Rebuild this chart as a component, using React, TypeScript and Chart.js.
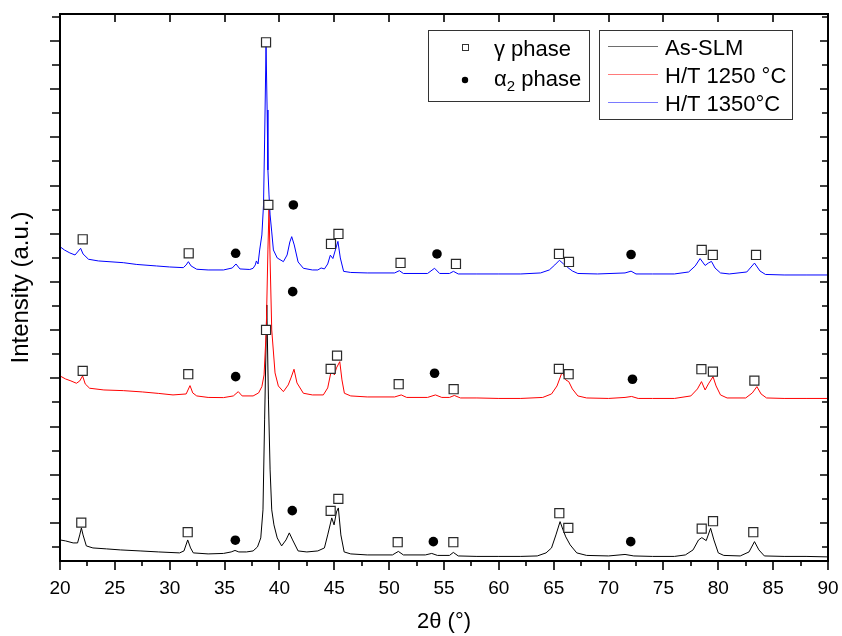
import React, { useEffect, useRef } from "react";
import { Chart, registerables } from "chart.js";

Chart.register(...registerables);

// ---------- data (2θ in degrees, intensity in arbitrary units) ----------
const X_MIN = 20;
const X_MAX = 90;
const Y_MIN = -79;
const Y_MAX = 1056;

const xMajorTicks = [20, 25, 30, 35, 40, 45, 50, 55, 60, 65, 70, 75, 80, 85, 90];
const xMinorTicks = [22.5, 27.5, 32.5, 37.5, 42.5, 47.5, 52.5, 57.5, 62.5, 67.5, 72.5, 77.5, 82.5, 87.5];
const yMajorTicks = [0, 100, 200, 300, 400, 500, 600, 700, 800, 900, 1000];
const yMinorTicks = [-50, 50, 150, 250, 350, 450, 550, 650, 750, 850, 950, 1050];

const seriesLabels = ["As-SLM", "H/T 1250 °C", "H/T 1350°C"];
const seriesColors = ["#000000", "#ff0000", "#0000ff"];
const legendLineColors = ["#6e6e6e", "#ff7a7a", "#7a7aff"];

const asSLM: [number, number][] = [
  [20.0, -35.3], [20.5, -37.3], [21.2, -41.5], [21.6, -41.5], [21.8, -24.9], [21.95, -10.4],
  [22.1, -24.9], [22.4, -47.7], [23.0, -51.9], [24.25, -53.9], [25.5, -56.0], [27.3, -58.1],
  [29.0, -60.2], [30.9, -62.2], [31.3, -58.1], [31.64, -35.3], [31.9, -51.9], [32.15, -62.2],
  [33.5, -64.3], [34.9, -63.3], [35.6, -60.2], [35.95, -57.1], [36.3, -60.2], [37.0, -60.2],
  [37.6, -58.1], [38.0, -49.8], [38.3, -31.1], [38.5, 27.0], [38.65, 213.7], [38.85, 452.3],
  [39.0, 255.2], [39.15, 110.0], [39.3, 27.0], [39.5, -4.1], [39.8, -31.1], [40.2, -47.7],
  [40.6, -35.3], [40.9, -20.7], [41.2, -35.3], [41.7, -58.1], [42.5, -60.2], [43.5, -58.1],
  [44.1, -51.9], [44.4, -24.9], [44.77, 10.4], [44.98, -4.1], [45.2, 22.8], [45.37, 31.1],
  [45.6, -24.9], [45.9, -60.2], [46.5, -64.3], [48.0, -66.4], [50.3, -66.4], [50.84, -59.1],
  [51.3, -66.4], [53.3, -66.4], [53.88, -63.3], [54.4, -67.4], [55.5, -67.4], [55.85, -61.2],
  [56.3, -68.5], [58.0, -69.5], [60.0, -69.5], [62.0, -69.5], [63.5, -68.5], [64.3, -62.2],
  [64.8, -51.9], [65.2, -24.9], [65.58, 2.7], [65.85, -14.5], [66.1, -29.0], [66.5, -45.6],
  [67.1, -62.2], [68.0, -67.4], [70.0, -68.5], [71.5, -65.4], [72.3, -68.5], [74.0, -69.5],
  [76.0, -69.5], [77.0, -66.4], [77.7, -56.0], [78.2, -35.3], [78.5, -30.5], [78.9, -36.7],
  [79.3, -11.0], [79.6, -35.3], [80.0, -62.2], [80.5, -67.4], [82.0, -68.5], [82.8, -60.2],
  [83.3, -38.8], [83.7, -56.0], [84.2, -68.5], [86.0, -69.5], [88.0, -69.5], [90.0, -70.5],
];

const ht1250: [number, number][] = [
  [20.0, 305.0], [20.5, 298.8], [21.0, 294.6], [21.5, 289.8], [21.8, 294.6], [22.06, 305.0],
  [22.3, 288.4], [22.7, 279.5], [24.0, 275.9], [25.77, 274.5], [27.5, 271.8], [29.0, 268.7],
  [30.3, 265.6], [31.5, 267.6], [31.85, 284.9], [32.1, 269.7], [32.46, 263.5], [33.5, 260.4],
  [34.9, 260.0], [35.8, 263.5], [36.25, 272.4], [36.6, 263.5], [37.6, 263.5], [38.1, 269.7],
  [38.4, 282.8], [38.6, 307.1], [38.8, 400.4], [38.95, 566.4], [39.05, 653.5], [39.15, 545.6],
  [39.3, 400.4], [39.6, 311.2], [39.9, 284.2], [40.36, 272.4], [40.8, 286.3], [41.05, 300.8],
  [41.33, 318.9], [41.6, 290.5], [42.18, 269.1], [43.0, 265.6], [44.0, 265.6], [44.4, 280.1],
  [44.7, 313.3], [44.87, 327.8], [45.0, 307.1], [45.2, 321.6], [45.5, 334.6], [45.7, 296.7],
  [45.92, 269.1], [46.5, 263.5], [48.0, 261.4], [50.5, 261.4], [51.1, 265.6], [51.6, 260.4],
  [53.5, 260.4], [54.22, 265.6], [54.8, 260.4], [55.5, 260.4], [55.94, 264.5], [56.5, 259.3],
  [58.0, 259.3], [60.0, 258.3], [62.0, 258.3], [64.0, 260.4], [64.8, 267.6], [65.3, 284.2],
  [65.78, 313.9], [66.1, 296.7], [66.37, 293.2], [66.7, 278.0], [67.2, 263.5], [68.0, 259.3],
  [70.0, 258.3], [71.5, 260.4], [72.1, 262.4], [72.7, 258.3], [74.0, 258.3], [76.0, 258.3],
  [77.5, 263.5], [78.1, 278.0], [78.47, 293.2], [78.8, 275.9], [79.1, 288.4], [79.52, 303.5],
  [79.8, 284.2], [80.2, 265.6], [80.8, 259.3], [82.5, 259.3], [83.1, 269.7], [83.52, 282.8],
  [83.9, 267.6], [84.4, 259.3], [86.0, 258.3], [88.0, 258.3], [90.0, 258.3],
];

const ht1350: [number, number][] = [
  [20.0, 573.2], [20.4, 566.4], [20.9, 560.2], [21.37, 556.0], [21.6, 562.2], [21.88, 569.9],
  [22.1, 558.1], [22.6, 547.1], [23.5, 543.6], [25.77, 540.0], [27.0, 536.3], [28.8, 533.2],
  [30.0, 531.1], [31.24, 529.7], [31.5, 535.3], [31.7, 542.1], [31.95, 533.2], [32.46, 526.4],
  [33.5, 524.9], [34.9, 524.9], [35.7, 529.0], [36.04, 537.3], [36.4, 527.0], [37.3, 525.9],
  [37.6, 528.4], [37.8, 535.3], [37.9, 543.6], [38.05, 537.3], [38.2, 566.4], [38.4, 597.5],
  [38.55, 659.8], [38.65, 794.6], [38.78, 989.6], [38.88, 856.9], [38.95, 732.4], [39.05, 680.5],
  [39.15, 639.0], [39.3, 603.7], [39.45, 566.4], [39.8, 549.8], [40.36, 542.1], [40.7, 556.0],
  [40.95, 583.0], [41.12, 594.0], [41.35, 576.8], [41.7, 541.5], [42.18, 528.4], [43.0, 524.9],
  [43.5, 524.9], [43.8, 529.0], [44.1, 527.0], [44.4, 537.3], [44.64, 555.6], [44.87, 548.6],
  [45.1, 566.4], [45.33, 584.2], [45.55, 549.8], [45.85, 522.0], [46.5, 519.7], [48.0, 518.7],
  [50.5, 518.7], [50.93, 523.4], [51.3, 517.6], [53.5, 517.6], [54.14, 528.4], [54.6, 517.6],
  [55.5, 517.6], [55.86, 522.0], [56.3, 516.6], [58.0, 516.6], [60.0, 516.6], [62.0, 516.6],
  [63.8, 518.7], [64.6, 524.9], [65.1, 535.3], [65.52, 545.0], [65.9, 537.3], [66.24, 530.7],
  [66.7, 522.8], [67.2, 517.6], [69.0, 516.6], [71.5, 518.7], [72.05, 522.4], [72.5, 516.6],
  [74.0, 516.6], [76.0, 516.6], [77.3, 520.7], [77.9, 533.2], [78.34, 548.6], [78.8, 534.2],
  [79.1, 539.4], [79.38, 542.7], [79.7, 529.0], [80.2, 518.7], [81.0, 516.6], [82.6, 520.7],
  [83.3, 539.2], [83.8, 522.8], [84.3, 515.6], [86.0, 514.5], [88.0, 514.5], [90.0, 514.5],
];

// phase markers placed above the peaks
const gammaMarks: [number, number][] = [
  [22.07, 588.6], [31.73, 559.5], [38.78, 997.3], [38.99, 659.8], [44.70, 578.8], [45.38, 599.6],
  [51.04, 539.4], [56.09, 537.3], [65.48, 558.1], [66.39, 541.5], [78.49, 566.4], [79.50, 556.0],
  [83.44, 556.0],
  [22.07, 315.4], [31.69, 308.5], [38.78, 400.4], [44.67, 319.5], [45.25, 347.1], [50.87, 287.8],
  [55.88, 277.4], [65.47, 319.5], [66.36, 308.5], [78.46, 318.9], [79.51, 313.9], [83.29, 295.2],
  [21.94, 0.6], [31.64, -19.3], [44.67, 24.9], [45.37, 49.8], [50.78, -40.0], [55.85, -40.0],
  [65.51, 20.1], [66.33, -10.4], [78.49, -11.8], [79.52, 3.5], [83.19, -19.3],
];

const alpha2Marks: [number, number][] = [
  [36.01, 559.5], [41.27, 659.8], [54.36, 558.1], [72.05, 557.0],
  [36.01, 303.5], [41.21, 479.9], [54.14, 310.6], [72.18, 298.1],
  [35.98, -35.9], [41.17, 25.5], [54.03, -38.8], [72.02, -38.8],
];

const FONT = "'Liberation Sans', Arial, sans-serif";

const toXY = (arr: [number, number][]) => arr.map(([x, y]) => ({ x, y }));

// ---------- plugins ----------
const framePlugin = {
  id: "frameTicks",
  afterDraw(chart: any) {
    const { ctx, chartArea } = chart;
    const xs = chart.scales.x;
    const ys = chart.scales.y;
    const { left, right, top, bottom } = chartArea;
    ctx.save();
    ctx.strokeStyle = "#000";
    ctx.lineWidth = 2;
    ctx.strokeRect(left, top, right - left, bottom - top);
    ctx.lineWidth = 1.6;
    ctx.beginPath();
    xMajorTicks.forEach((v) => {
      const p = Math.round(xs.getPixelForValue(v));
      ctx.moveTo(p, bottom);
      ctx.lineTo(p, bottom + 9);
      ctx.moveTo(p, top);
      ctx.lineTo(p, top + 8);
    });
    xMinorTicks.forEach((v) => {
      const p = Math.round(xs.getPixelForValue(v));
      ctx.moveTo(p, bottom);
      ctx.lineTo(p, bottom + 5);
    });
    yMajorTicks.forEach((v) => {
      const p = Math.round(ys.getPixelForValue(v));
      ctx.moveTo(left, p);
      ctx.lineTo(left - 10, p);
      ctx.moveTo(right, p);
      ctx.lineTo(right - 8, p);
    });
    yMinorTicks.forEach((v) => {
      const p = Math.round(ys.getPixelForValue(v));
      ctx.moveTo(left, p);
      ctx.lineTo(left - 8, p);
      ctx.moveTo(right, p);
      ctx.lineTo(right - 6, p);
    });
    ctx.stroke();
    ctx.restore();
  },
};

const legendPlugin = {
  id: "customLegends",
  afterDraw(chart: any) {
    const { ctx } = chart;
    ctx.save();
    ctx.strokeStyle = "#333";
    ctx.lineWidth = 1;
    ctx.fillStyle = "#fff";
    ctx.fillRect(428.5, 30.5, 161, 71);
    ctx.strokeRect(428.5, 30.5, 161, 71);
    ctx.fillRect(599.5, 30.5, 193, 89);
    ctx.strokeRect(599.5, 30.5, 193, 89);

    ctx.fillStyle = "#fff";
    ctx.strokeStyle = "#333";
    ctx.fillRect(462.5, 44.5, 6, 6);
    ctx.strokeRect(462.5, 44.5, 6, 6);
    ctx.fillStyle = "#000";
    ctx.beginPath();
    ctx.arc(465, 80, 3.2, 0, Math.PI * 2);
    ctx.fill();

    ctx.fillStyle = "#000";
    ctx.textBaseline = "alphabetic";
    ctx.textAlign = "left";
    ctx.font = `22px ${FONT}`;
    ctx.fillText("γ phase", 494, 56);
    ctx.fillText("α", 494, 86);
    const aw = ctx.measureText("α").width;
    ctx.font = `15px ${FONT}`;
    ctx.fillText("2", 494 + aw, 91);
    const tw = ctx.measureText("2").width;
    ctx.font = `22px ${FONT}`;
    ctx.fillText(" phase", 494 + aw + tw, 86);

    const rows = [46.5, 74.5, 102.5];
    const bases = [54.5, 82.5, 110.5];
    seriesLabels.forEach((lab, i) => {
      ctx.strokeStyle = legendLineColors[i];
      ctx.lineWidth = 1;
      ctx.beginPath();
      ctx.moveTo(608, rows[i]);
      ctx.lineTo(658, rows[i]);
      ctx.stroke();
      ctx.fillStyle = "#000";
      ctx.font = `22px ${FONT}`;
      ctx.fillText(lab, 665, bases[i]);
    });
    ctx.restore();
  },
};

export default function App() {
  const canvasRef = useRef<HTMLCanvasElement | null>(null);

  useEffect(() => {
    document.body.style.margin = "0";
    const canvas = canvasRef.current;
    if (!canvas) return;
    const chart = new Chart(canvas, {
      type: "line",
      data: {
        datasets: [
          {
            type: "scatter",
            label: "γ phase",
            data: toXY(gammaMarks),
            pointStyle: "rect",
            pointRadius: 6.4,
            pointBackgroundColor: "#ffffff",
            pointBorderColor: "#2a2a2a",
            pointBorderWidth: 1.2,
            showLine: false,
            order: 0,
          } as any,
          {
            type: "scatter",
            label: "α2 phase",
            data: toXY(alpha2Marks),
            pointStyle: "circle",
            pointRadius: 4.8,
            pointBackgroundColor: "#000000",
            pointBorderColor: "#000000",
            pointBorderWidth: 0,
            showLine: false,
            order: 0,
          } as any,
          {
            label: seriesLabels[2],
            data: toXY(ht1350),
            borderColor: seriesColors[2],
            borderWidth: 1,
            pointRadius: 0,
            tension: 0,
            fill: false,
            order: 1,
          },
          {
            label: seriesLabels[1],
            data: toXY(ht1250),
            borderColor: seriesColors[1],
            borderWidth: 1,
            pointRadius: 0,
            tension: 0,
            fill: false,
            order: 2,
          },
          {
            label: seriesLabels[0],
            data: toXY(asSLM),
            borderColor: seriesColors[0],
            borderWidth: 1,
            pointRadius: 0,
            tension: 0,
            fill: false,
            order: 3,
          },
        ],
      },
      options: {
        animation: false,
        responsive: false,
        maintainAspectRatio: false,
        layout: { padding: { top: 14, right: 14, left: 0, bottom: 0 } },
        plugins: {
          legend: { display: false },
          tooltip: { enabled: false },
        },
        scales: {
          x: {
            type: "linear",
            min: X_MIN,
            max: X_MAX,
            ticks: {
              stepSize: 5,
              autoSkip: false,
              maxRotation: 0,
              color: "#000",
              padding: 16,
              font: { family: FONT, size: 19 },
            },
            grid: { display: false, drawTicks: false },
            border: { display: false },
            title: {
              display: true,
              text: "2θ (°)",
              color: "#000",
              font: { family: FONT, size: 22 },
              padding: { top: 0, bottom: 1 },
            },
            afterFit: (s: any) => {
              s.height = 75;
              s.paddingLeft = 0;
              s.paddingRight = 0;
            },
          },
          y: {
            type: "linear",
            min: Y_MIN,
            max: Y_MAX,
            ticks: { display: false },
            grid: { display: false, drawTicks: false },
            border: { display: false },
            title: {
              display: true,
              text: "Intensity (a.u.)",
              color: "#000",
              font: { family: FONT, size: 24 },
              padding: { top: 7, bottom: 0 },
            },
            afterFit: (s: any) => {
              s.width = 60;
              s.paddingTop = 0;
              s.paddingBottom = 0;
            },
          },
        },
      },
      plugins: [framePlugin, legendPlugin],
    });
    return () => chart.destroy();
  }, []);

  return (
    <div style={{ width: 842, height: 636, background: "#fff" }}>
      <canvas ref={canvasRef} width={842} height={636} style={{ display: "block" }} />
    </div>
  );
}
